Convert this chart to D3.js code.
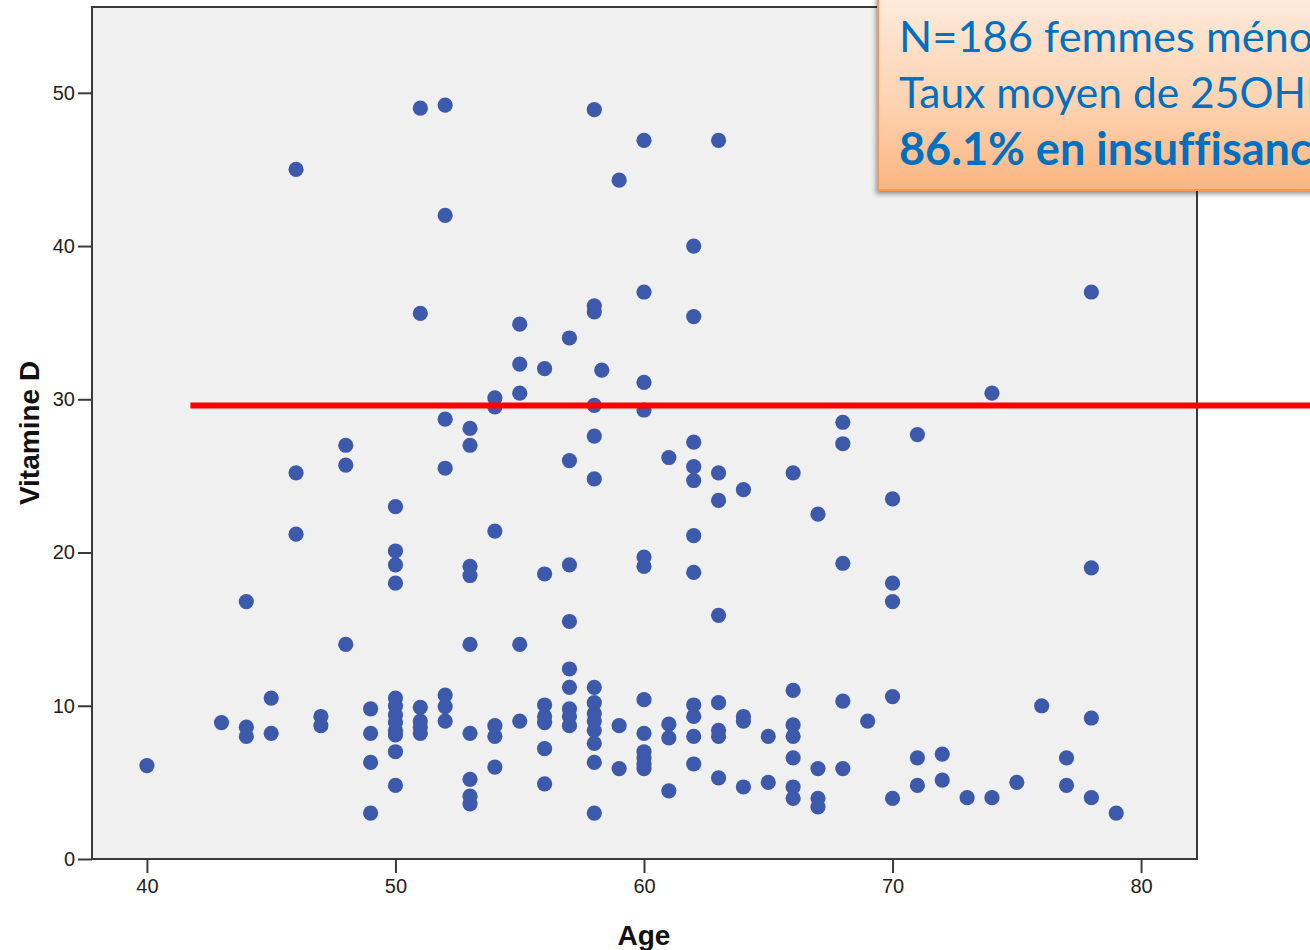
<!DOCTYPE html>
<html>
<head>
<meta charset="utf-8">
<script src="https://cdn.jsdelivr.net/npm/d3@7"></script>
<style>
html,body{margin:0;padding:0;background:#fff;}
svg{display:block;}
</style>
</head>
<body>
<svg id="chart" width="1310" height="950"></svg>
<script>
// ---- Data (age, vitamine D) ----
const ages = [
 40,43,44,44,44,45,45,46,46,46,47,47,48,48,48,49,49,49,49,
 50,50,50,50,50,50,50,50,50,50,50,50,
 51,51,51,51,51,51,
 52,52,52,52,52,52,52,
 53,53,53,53,53,53,53,53,53,
 54,54,54,54,54,54,
 55,55,55,55,55,
 56,56,56,56,56,56,56,
 57,57,57,57,57,57,57,57,57,
 58,58,58,58,58,58,58,58,58,58,58,58,58,58,58.3,
 59,59,59,
 60,60,60,60,60,60,60,60,60,60,60,60,
 61,61,61,61,
 62,62,62,62,62,62,62,62,62,62,62,
 63,63,63,63,63,63,63,63,
 64,64,64,64,65,65,
 66,66,66,66,66,66,66,
 67,67,67,67,
 68,68,68,68,68,69,
 70,70,70,70,70,
 71,71,71,72,72,73,74,74,75,76,77,77,
 78,78,78,78,79
];
const vitD = [
 6.1,8.9,16.8,8.6,8.0,10.5,8.2,45.0,25.2,21.2,9.3,8.7,27.0,25.7,14.0,9.8,8.2,6.3,3.0,
 23.0,20.1,19.2,18.0,10.5,10.0,9.4,8.9,8.4,8.1,7.0,4.8,
 49.0,35.6,9.9,9.0,8.6,8.2,
 49.2,42.0,28.7,25.5,10.7,9.95,9.0,
 28.1,27.0,19.1,18.5,14.0,8.2,5.2,4.1,3.6,
 30.1,29.5,21.4,8.7,8.0,6.0,
 34.9,32.3,30.4,14.0,9.0,
 32.0,18.6,10.05,9.3,8.9,7.2,4.9,
 34.0,26.0,19.2,15.5,12.4,11.2,9.8,9.3,8.7,
 48.9,36.1,35.7,29.6,27.6,24.8,11.2,10.2,9.5,9.0,8.4,7.55,6.3,3.0,31.9,
 44.3,8.7,5.9,
 46.9,37.0,31.1,29.3,19.7,19.1,10.4,8.2,7.0,6.6,6.2,5.9,
 26.2,8.8,7.9,4.45,
 40.0,35.4,27.2,25.6,24.7,21.1,18.7,10.05,9.3,8.0,6.2,
 46.9,25.2,23.4,15.9,10.2,8.4,8.0,5.3,
 24.1,9.3,9.0,4.7,8.0,5.0,
 25.2,11.0,8.75,8.0,6.6,4.7,3.95,
 22.5,5.9,3.95,3.4,
 28.5,27.1,19.3,10.3,5.9,9.0,
 23.5,18.0,16.8,10.6,3.95,
 27.7,6.6,4.8,6.85,5.15,4.0,30.4,4.0,5.0,10.0,6.6,4.8,
 37.0,19.0,9.2,4.0,3.0
];
const xTicks = [40,50,60,70,80];
const yTicks = [0,10,20,30,40,50];
const xDomain = [37.79, 82.25];
const yDomain = [0, 55.6];
const threshold = 29.6;        // red line value
const thresholdStartAge = 41.75;
const xLabel = "Age";
const yLabel = "Vitamine D";
const noteLines = ["N=186 femmes ménopausées", "Taux moyen de 25OHD", "86.1% en insuffisance"];

// ---- Layout ----
const svg = d3.select("#chart");
const W = 1310, H = 950;
const plot = {left: 92, right: 1197, top: 7, bottom: 859};

const x = d3.scaleLinear().domain(xDomain).range([plot.left, plot.right]);
const y = d3.scaleLinear().domain(yDomain).range([plot.bottom, plot.top]);

const defs = svg.append("defs");
const grad = defs.append("linearGradient").attr("id","boxGrad").attr("x1",0).attr("y1",0).attr("x2",0).attr("y2",1);
grad.append("stop").attr("offset","0%").attr("stop-color","#fdeadb");
grad.append("stop").attr("offset","55%").attr("stop-color","#fdd3b1");
grad.append("stop").attr("offset","100%").attr("stop-color","#fbb580");
const sh = defs.append("filter").attr("id","shadow").attr("x","-10%").attr("y","-10%").attr("width","130%").attr("height","130%");
sh.append("feDropShadow").attr("dx",-1).attr("dy",3).attr("stdDeviation",2.5).attr("flood-color","#000").attr("flood-opacity",0.4);

// plot background
svg.append("rect").attr("x",plot.left).attr("y",plot.top)
  .attr("width",plot.right-plot.left).attr("height",plot.bottom-plot.top)
  .attr("fill","#f0f0f0");

// dots
svg.append("g").selectAll("circle").data(ages.map((a,i)=>({a, v:vitD[i]})))
  .join("circle")
  .attr("cx",d=>x(d.a)).attr("cy",d=>y(d.v)).attr("r",7.6)
  .attr("fill","#3d59ab");

// frame
svg.append("rect").attr("x",plot.left).attr("y",plot.top)
  .attr("width",plot.right-plot.left).attr("height",plot.bottom-plot.top)
  .attr("fill","none").attr("stroke","#3a3a3a").attr("stroke-width",2);

// axes
const xAxis = d3.axisBottom(x).tickValues(xTicks).tickSize(14).tickPadding(6).tickSizeOuter(0);
const gx = svg.append("g").attr("transform",`translate(0,${plot.bottom})`).call(xAxis);
gx.select(".domain").remove();
gx.selectAll("line").attr("stroke","#3a3a3a").attr("stroke-width",2);
gx.selectAll("text").attr("font-family","Liberation Sans, Arial, sans-serif").attr("font-size",20).attr("fill","#222");

const yAxis = d3.axisLeft(y).tickValues(yTicks).tickSize(14).tickPadding(3).tickSizeOuter(0);
const gy = svg.append("g").attr("transform",`translate(${plot.left},0)`).call(yAxis);
gy.select(".domain").remove();
gy.selectAll("line").attr("stroke","#3a3a3a").attr("stroke-width",2);
gy.selectAll("text").attr("font-family","Liberation Sans, Arial, sans-serif").attr("font-size",20).attr("fill","#222");

// axis titles
svg.append("text").attr("x",(x(60))).attr("y",945).attr("text-anchor","middle")
  .attr("font-family","Liberation Sans, Arial, sans-serif").attr("font-weight","bold").attr("font-size",28)
  .attr("fill","#111").text(xLabel);
svg.append("text").attr("transform",`translate(39,${(plot.top+plot.bottom)/2}) rotate(-90)`)
  .attr("text-anchor","middle")
  .attr("font-family","Liberation Sans, Arial, sans-serif").attr("font-weight","bold").attr("font-size",28)
  .attr("fill","#111").text(yLabel);

// red threshold line
svg.append("line").attr("x1",x(thresholdStartAge)).attr("x2",W)
  .attr("y1",y(threshold)).attr("y2",y(threshold))
  .attr("stroke","#ff0000").attr("stroke-width",6);

// annotation box
svg.append("rect").attr("x",878).attr("y",-3).attr("width",W-878+20).attr("height",193)
  .attr("fill","url(#boxGrad)").attr("stroke","#f59a52").attr("stroke-width",2)
  .attr("filter","url(#shadow)");

const noteFont = "Lato, 'Open Sans', sans-serif";
// each line sized so that its visible part reaches the same spot as in the reference
const probes = [["N=186 femmes mén", 390], ["Taux moyen de 25OH", 407], ["86.1% en insuffisan", 391]];
const baselines = [52, 108, 165];
noteLines.forEach((t,i)=>{
  const p = svg.append("text").attr("font-family",noteFont).attr("font-size",40)
    .attr("font-weight", i===2 ? "bold" : "normal")
    .style("font-variant-ligatures","none").text(probes[i][0]);
  const pw = p.node().getComputedTextLength();
  p.remove();
  const size = 40 * probes[i][1] / pw;
  svg.append("text").attr("x",899).attr("y",baselines[i])
    .attr("font-family",noteFont).attr("font-size",size)
    .attr("font-weight", i===2 ? "bold" : "normal")
    .style("font-variant-ligatures","none")
    .attr("fill","#0070c0").text(t);
});
</script>
</body>
</html>
